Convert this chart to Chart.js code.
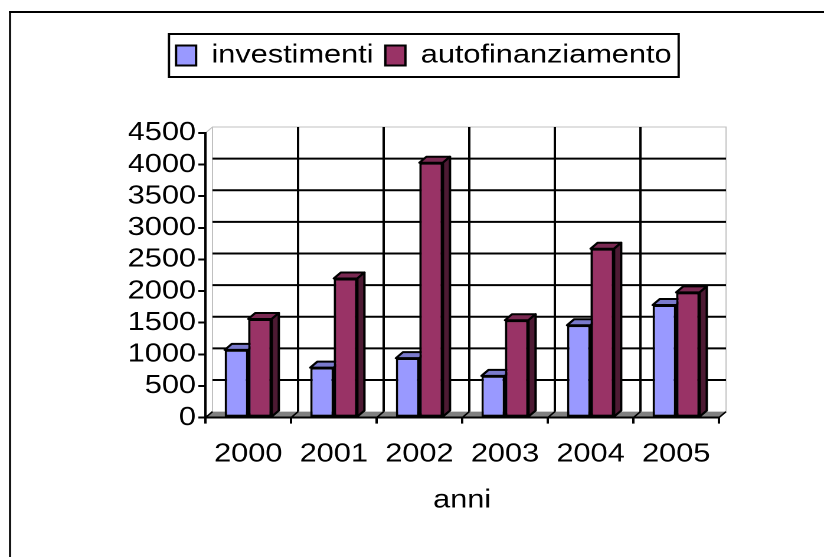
<!DOCTYPE html>
<html>
<head>
<meta charset="utf-8">
<script src="https://cdn.jsdelivr.net/npm/chart.js@4.4.1/dist/chart.umd.min.js"></script>
<style>
  html, body { margin: 0; padding: 0; background: #fff; overflow: hidden; }
  body { width: 824px; height: 557px; position: relative; }
  #chart { position: absolute; left: 0; top: 0; }
</style>
</head>
<body>
<!-- the original picture is stretched sideways, so the canvas is drawn narrower and widened by css -->
<canvas id="chart" width="698" height="557" style="width:824px;height:557px"></canvas>

<script>
  var anni = ['2000', '2001', '2002', '2003', '2004', '2005'];
  var investimenti = [1070, 790, 940, 660, 1460, 1780];
  var autofinanziamento = [1560, 2200, 4030, 1540, 2670, 1980];
  var yTicks = [0, 500, 1000, 1500, 2000, 2500, 3000, 3500, 4000, 4500];

  var frontColors = ['#9999FF', '#993366'];
  var topColors = ['#7A7ACC', '#7A2952'];
  var sideColors = ['#4D4D80', '#4D1A33'];

  // depth of the fake 3d
  var dx = 6, dy = -6;
  var stretch = 824 / 698;

  Chart.defaults.font.family = "'Liberation Sans', Arial, sans-serif";
  Chart.defaults.color = '#000';

  function drawFaces(ctx, bar, topCol, sideCol)
  {
    var p = bar.getProps(['x', 'y', 'base', 'width'], true);
    var l = p.x - p.width / 2, r = p.x + p.width / 2;
    ctx.lineWidth = 2;
    ctx.strokeStyle = '#000';
    ctx.lineJoin = 'round';

    ctx.beginPath();
    ctx.moveTo(l, p.y); ctx.lineTo(r, p.y); ctx.lineTo(r + dx, p.y + dy); ctx.lineTo(l + dx, p.y + dy);
    ctx.closePath();
    ctx.fillStyle = topCol; ctx.fill(); ctx.stroke();

    ctx.beginPath();
    ctx.moveTo(r, p.y); ctx.lineTo(r + dx, p.y + dy); ctx.lineTo(r + dx, p.base + dy); ctx.lineTo(r, p.base);
    ctx.closePath();
    ctx.fillStyle = sideCol; ctx.fill(); ctx.stroke();
  }

  var walls3d = {
    id: 'walls3d',
    beforeInit: function(chart) {
      // push the plot down below the legend
      var fit = chart.legend.fit;
      chart.legend.fit = function() { fit.call(this); this.height += 54.5; };
    },
    beforeDraw: function(chart) {
      var ctx = chart.ctx, a = chart.chartArea, ys = chart.scales.y;
      var n = anni.length, cw = (a.right - a.left) / n;
      ctx.save();

      // outer frame, only the top and left edges are in the picture
      ctx.fillStyle = '#000';
      ctx.fillRect(9 / stretch, 11, chart.width, 2);
      ctx.fillRect(9 / stretch, 11, 2 / stretch, chart.height);

      // floor
      ctx.fillStyle = '#808080';
      ctx.beginPath();
      ctx.moveTo(a.left, a.bottom); ctx.lineTo(a.right, a.bottom);
      ctx.lineTo(a.right + dx, a.bottom + dy); ctx.lineTo(a.left + dx, a.bottom + dy);
      ctx.closePath(); ctx.fill();

      // wall outline
      ctx.strokeStyle = '#C0C0C0'; ctx.lineWidth = 1;
      ctx.beginPath();
      ctx.moveTo(a.left, a.top); ctx.lineTo(a.left + dx, a.top + dy);
      ctx.lineTo(a.right + dx, a.top + dy); ctx.lineTo(a.right + dx, a.bottom + dy);
      ctx.moveTo(a.left + dx, a.top + dy); ctx.lineTo(a.left + dx, a.bottom + dy);
      ctx.stroke();

      // gridlines on the back wall
      ctx.strokeStyle = '#000'; ctx.lineWidth = 2;
      ctx.beginPath();
      yTicks.forEach(function(v) {
        if (v === 0 || v === yTicks[yTicks.length - 1]) return;
        var py = ys.getPixelForValue(v) + dy;
        ctx.moveTo(a.left + dx, py); ctx.lineTo(a.right + dx, py);
      });
      for (var i = 1; i < n; i++)
      {
        var px = a.left + cw * i + dx;
        ctx.moveTo(px, a.top + dy); ctx.lineTo(px, a.bottom + dy);
      }
      ctx.stroke();

      // little ticks running over the floor
      ctx.lineWidth = 1.5;
      ctx.beginPath();
      for (var j = 0; j <= n; j++)
      {
        var fx = a.left + cw * j;
        ctx.moveTo(fx, a.bottom); ctx.lineTo(fx + dx, a.bottom + dy);
      }
      ctx.stroke();
      ctx.restore();
    },
    afterDatasetsDraw: function(chart) {
      var ctx = chart.ctx;
      var m0 = chart.getDatasetMeta(0), m1 = chart.getDatasetMeta(1);
      ctx.save();
      for (var i = 0; i < anni.length; i++)
      {
        drawFaces(ctx, m0.data[i], topColors[0], sideColors[0]);
        m1.data[i].draw(ctx);
        drawFaces(ctx, m1.data[i], topColors[1], sideColors[1]);
      }
      ctx.restore();
    },
    afterDraw: function(chart) {
      var ctx = chart.ctx, hb = chart.legend.legendHitBoxes;
      if (!hb || !hb.length) return;
      var l = Math.min.apply(null, hb.map(function(h) { return h.left; })) - 6;
      var r = Math.max.apply(null, hb.map(function(h) { return h.left + h.width; })) + 6;
      var cy = hb[0].top + hb[0].height / 2;
      ctx.save();
      ctx.strokeStyle = '#000'; ctx.lineWidth = 2;
      ctx.strokeRect(l, cy - 21.5, r - l, 43);
      ctx.restore();
    }
  };

  var fontBig = { size: 26 };

  var chart = new Chart(document.getElementById('chart'), {
    type: 'bar',
    data: {
      labels: anni,
      datasets: [
        { label: 'investimenti', data: investimenti, backgroundColor: frontColors[0],
          borderColor: '#000', borderWidth: 2, borderSkipped: false },
        { label: 'autofinanziamento', data: autofinanziamento, backgroundColor: frontColors[1],
          borderColor: '#000', borderWidth: 2, borderSkipped: false }
      ]
    },
    options: {
      responsive: false,
      devicePixelRatio: 2,
      animation: false,
      layout: { padding: { left: 109, right: 89, top: 32.5, bottom: 0 } },
      datasets: { bar: { categoryPercentage: 0.55, barPercentage: 1.0 } },
      plugins: {
        legend: {
          position: 'top',
          labels: { boxWidth: 17, boxHeight: 20, padding: 10, font: fontBig, color: '#000' }
        },
        tooltip: { enabled: false }
      },
      scales: {
        x: {
          ticks: { font: fontBig, color: '#000', padding: 15 },
          grid: { drawOnChartArea: false, drawTicks: true, tickLength: 6, color: '#000', lineWidth: 2, offset: true },
          border: { display: true, color: '#000', width: 2 },
          title: { display: true, text: 'anni', font: fontBig, color: '#000', padding: { top: 0, bottom: 41 } }
        },
        y: {
          min: 0,
          max: yTicks[yTicks.length - 1],
          afterBuildTicks: function(s) { s.ticks = yTicks.map(function(v) { return { value: v }; }); },
          ticks: { font: fontBig, color: '#000', padding: 2, autoSkip: false,
                   callback: function(v) { return String(v); } },
          grid: { drawOnChartArea: false, drawTicks: true, tickLength: 6, color: '#000', lineWidth: 2 },
          border: { display: true, color: '#000', width: 2 },
          afterFit: function(s) { s.width = 65; }
        }
      }
    },
    plugins: [walls3d]
  });
</script>
</body>
</html>
